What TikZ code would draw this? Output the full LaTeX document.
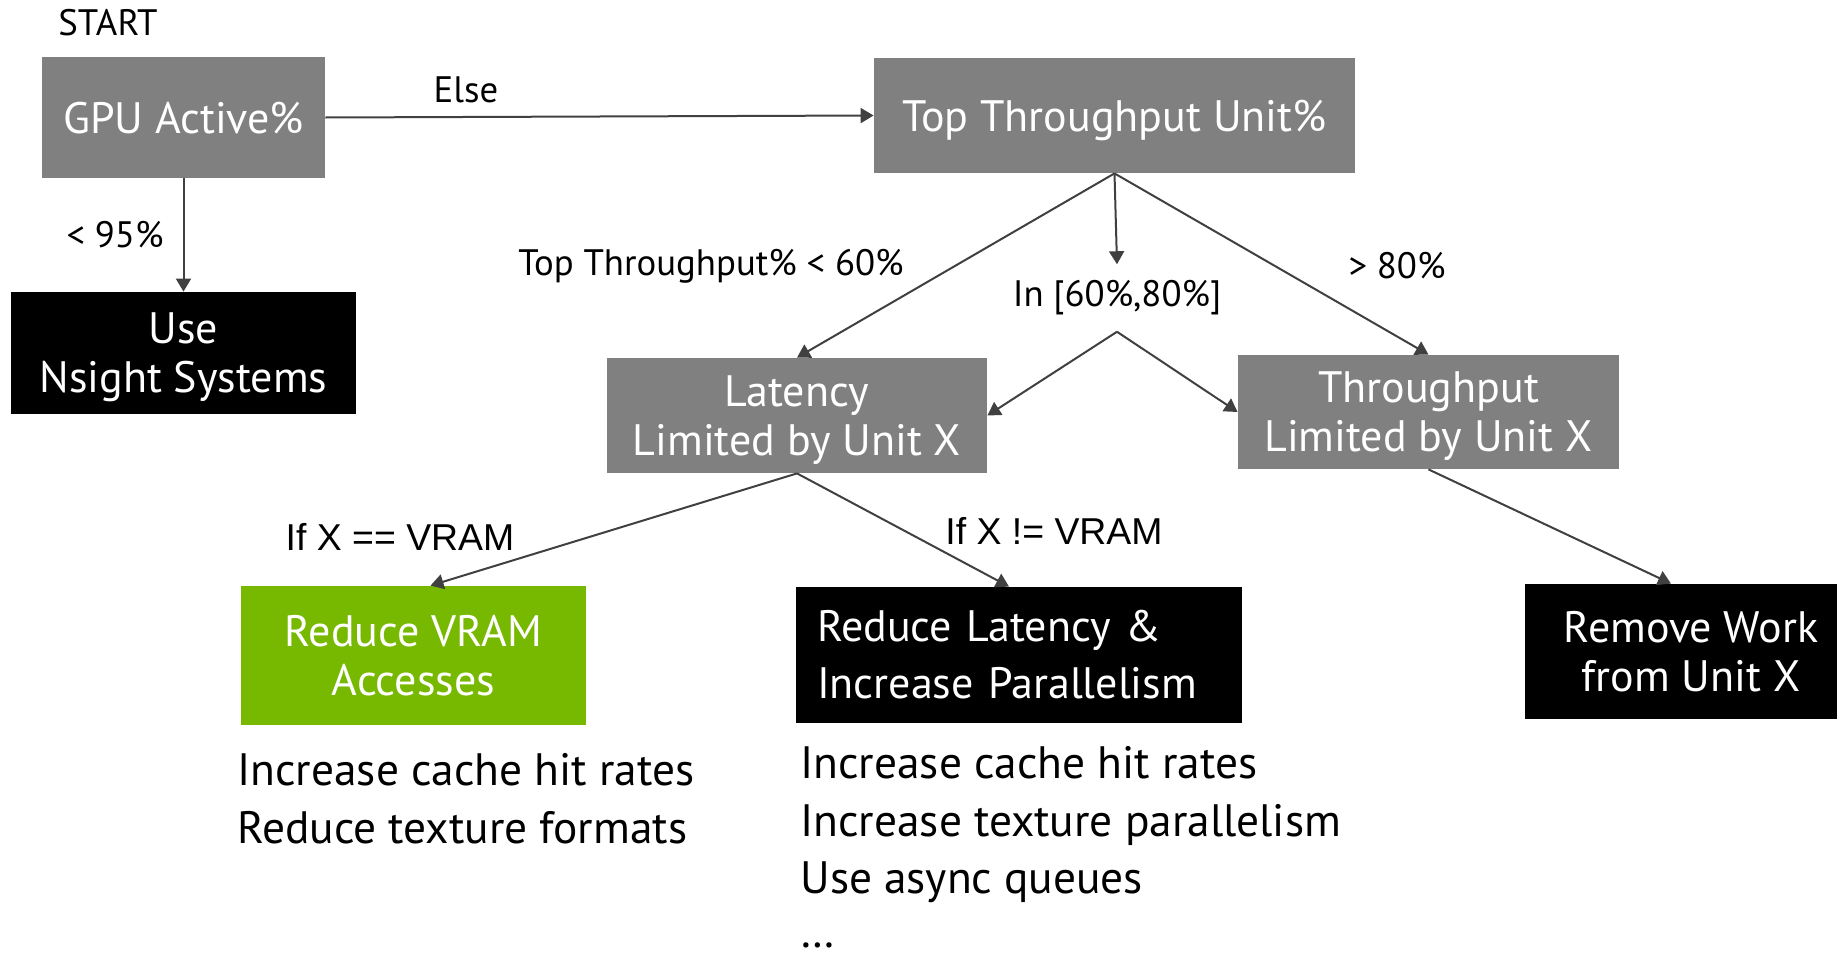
\documentclass[tikz,border=0pt]{standalone}
\usepackage{fontspec}
\setmainfont{PT Sans}
\newfontfamily\arialfont{Liberation Sans}
\usepackage{tikz}
\usetikzlibrary{positioning, arrows.meta}
\definecolor{boxgray}{RGB}{128,128,128}
\definecolor{nvgreen}{RGB}{118,185,0}
\definecolor{linegray}{RGB}{64,64,64}
\tikzset{
>={Triangle[length=6.5pt,width=7.5pt]}, % filled arrow heads
every edge/.style={draw=linegray, line width=1pt, ->}, % all connectors
box/.style={text=white, align=center, inner sep=0pt, font=\fontsize{22}{24.5}\selectfont}, % common box settings
graybox/.style={box, text depth=0pt, fill=boxgray}, % a metric to look at
blackbox/.style={box, text depth=0pt, fill=black}, % an action
greenbox/.style={box, text depth=0pt, fill=nvgreen}, % the highlighted action
cond/.style={inner sep=2pt, font=\fontsize{18.4}{20}\selectfont}, % edge conditions
condb/.style={cond, font=\arialfont\fontsize{18.7}{20}\selectfont}, % conditions in Arial
tips/.style={align=left, anchor=north west, inner sep=0pt, font=\fontsize{22.7}{28.75}\selectfont}, % hint lists
}

\begin{document}
\begin{tikzpicture}[x=0.5pt, y=-0.5pt]
\useasboundingbox (0,0) rectangle (1837,953);
                \node[cond] (start) at (108,23) {START};
                \node[graybox, minimum width=141.5pt, minimum height=60.5pt] (gpu) at (183.5,117.5) {GPU Active\%};
                \node[blackbox, minimum width=172.5pt, minimum height=61pt] (nsight) at (183.5,353) {Use\\Nsight Systems};
                \node[graybox, minimum width=240.5pt, minimum height=57.5pt] (top) at (1114.5,115.5) {Top Throughput Unit\%};
                \node[graybox, minimum width=190pt, minimum height=57.5pt] (latency) at (797,415.5) {Latency\\Limited by Unit X};
                \node[graybox, minimum width=190.5pt, minimum height=57pt] (thru) at (1428.5,412) {Throughput\\Limited by Unit X};
                \node[greenbox, minimum width=172.5pt, minimum height=69.5pt] (vram) at (413.5,655.5) {Reduce VRAM\\Accesses};
                \node[box, fill=black, align=left, text width=202pt, inner xsep=10.5pt, minimum height=68pt, font=\fontsize{22}{28.5}\selectfont] (redlat) at (1019,655) {Reduce Latency \&\\Increase Parallelism};
                \node[blackbox, minimum width=166pt, minimum height=67.5pt] (remove) at (1691,651.5) {Remove Work\\from Unit X};
                % conditions
                \node[cond] (else) at (466,90) {Else};
                \node[cond] (p95) at (115,235) {< 95\%};
                \node[cond] (low) at (711,266) {Top Throughput\% < 60\%};
                \node[cond, inner sep=8pt] (mid) at (1117,298) {In [60\%,80\%]};
                \node[cond] (high) at (1397,266) {> 80\%};
                \node[condb] (ifeq) at (400,537) {If X == VRAM};
                \node[condb] (ifne) at (1054,531) {If X != VRAM};
                % hints
                \node[tips] (hintvram) at (237,753) {Increase cache hit rates\\Reduce texture formats};
                \node[tips] (hintlat) at (800,746) {Increase cache hit rates\\Increase texture parallelism\\Use async queues\\[-2pt]\dots};
                \draw
                    (gpu.east) edge (top.west)
                    (gpu.south) edge (nsight.north)
                    (top.south) edge (latency.north)
                    (top.south) edge (mid.north)
                    (top.south) edge (thru.north)
                    (mid.south) edge (latency.east)
                    (mid.south) edge (thru.west)
                    (latency.south) edge ([xshift=8.5pt]vram.north)
                    (latency.south) edge ([xshift=-5pt]redlat.north)
                    (thru.south) edge ([xshift=-10pt]remove.north)
                    ;
                \end{tikzpicture}
\end{document}
